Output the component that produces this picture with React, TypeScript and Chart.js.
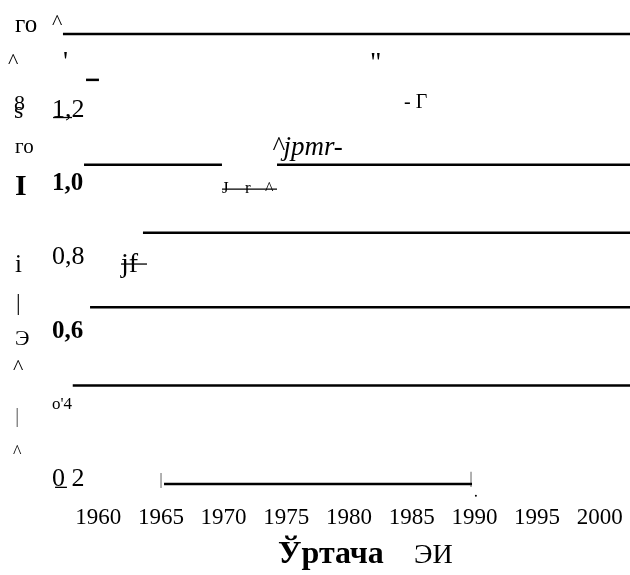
import { useEffect, useRef } from "react";
import { Chart, registerables } from "chart.js";

Chart.register(...registerables);

const SERIF = "'Liberation Serif', 'Times New Roman', serif";

// Axis ticks
const xTickYears = [1960, 1965, 1970, 1975, 1980, 1985, 1990, 1995, 2000];
const yTickValues = [0.2, 0.4, 0.6, 0.8, 1.0, 1.2];
const yTickLabels = ["0 2", "o'4", "0,6", "0,8", "1,0", "1,2"];
const xTitleBold = "Ўртача";
const xTitleRegular = "ЭИ";

// Horizontal rules (value level, start year, end year)
const ruleLevels = [1.405, 1.281, 1.051, 1.051, 0.867, 0.665, 0.453, 0.186];
const ruleStarts = [1957.19, 1959.03, 1958.87, 1974.26, 1963.57, 1959.35, 1957.97, 1965.25];
const ruleEnds = [2002.8, 1960.06, 1969.87, 2002.8, 2002.8, 2002.8, 2002.8, 1989.81];

// Thin strike / underline strokes
const strokeLevels = [0.985, 0.782, 1.179, 0.177];
const strokeStarts = [1969.87, 1961.82, 1956.4, 1956.56];
const strokeEnds = [1974.26, 1963.89, 1957.91, 1957.51];

// End markers of the bottom rule
const markerYears = [1965.01, 1989.73];
const markerTops = [0.216, 0.219];
const markerBottoms = [0.175, 0.178];

// Stray dot
const dotYears = [1990.12];
const dotValues = [0.154];

// Loose text fragments
const noteTexts = ["го", "^", "^", "'", "\"", "8", "s", "- Г", "го", "^jpmr-", "I", "J", "r", "^", "i", "jf", "|", "Э", "^", "|", "^", xTitleBold, xTitleRegular];
const noteYears = [1953.37, 1956.32, 1952.81, 1957.19, 1981.67, 1953.29, 1953.29, 1984.39, 1953.37, 1973.86, 1953.37, 1969.87, 1971.71, 1973.3, 1953.37, 1961.82, 1953.45, 1953.37, 1953.21, 1953.37, 1953.21, 1974.34, 1985.18];
const noteValues = [1.411, 1.42, 1.312, 1.308, 1.305, 1.2, 1.178, 1.205, 1.083, 1.0775, 0.969, 0.9745, 0.9745, 0.969, 0.7605, 0.7605, 0.6575, 0.5627, 0.4842, 0.3541, 0.2566, -0.0279, -0.0279];
const noteFonts = [
  `25px ${SERIF}`, `22px ${SERIF}`, `22px ${SERIF}`, `28px ${SERIF}`, `28px ${SERIF}`,
  `22px ${SERIF}`, `24px ${SERIF}`, `20px ${SERIF}`, `21px ${SERIF}`, `italic 27px ${SERIF}`,
  `bold 30px ${SERIF}`, `17px ${SERIF}`, `17px ${SERIF}`, `18px ${SERIF}`, `25px ${SERIF}`,
  `28px ${SERIF}`, `23px ${SERIF}`, `22px ${SERIF}`, `22px ${SERIF}`, `22px ${SERIF}`,
  `18px ${SERIF}`, `bold 32px ${SERIF}`, `28px ${SERIF}`,
];
const noteColors = noteTexts.map((_, i) => (i === 19 ? "#666" : "#000"));

const yTickFonts = [
  { family: SERIF, size: 26 },
  { family: SERIF, size: 17 },
  { family: SERIF, size: 25, weight: "bold" },
  { family: SERIF, size: 26 },
  { family: SERIF, size: 25, weight: "bold" },
  { family: SERIF, size: 26 },
];

const notesPlugin = {
  id: "notes",
  afterDatasetsDraw(chart: any) {
    const { ctx, scales } = chart;
    ctx.save();
    ctx.textAlign = "left";
    ctx.textBaseline = "alphabetic";
    noteTexts.forEach((t, i) => {
      ctx.font = noteFonts[i];
      ctx.fillStyle = noteColors[i];
      ctx.fillText(t, scales.x.getPixelForValue(noteYears[i]), scales.y.getPixelForValue(noteValues[i]));
    });
    ctx.restore();
  },
};

function seg(x0: number, x1: number, y0: number, y1: number, width: number, color: string) {
  return {
    data: [{ x: x0, y: y0 }, { x: x1, y: y1 }],
    showLine: true,
    borderColor: color,
    backgroundColor: color,
    borderWidth: width,
    pointRadius: 0,
    clip: false as any,
  };
}

export default function App() {
  const ref = useRef<HTMLCanvasElement | null>(null);

  useEffect(() => {
    if (!ref.current) return;
    const datasets: any[] = [];
    ruleLevels.forEach((v, i) => datasets.push(seg(ruleStarts[i], ruleEnds[i], v, v, 2.5, "#000")));
    strokeLevels.forEach((v, i) => datasets.push(seg(strokeStarts[i], strokeEnds[i], v, v, 1.3, "#000")));
    markerYears.forEach((x, i) => datasets.push(seg(x, x, markerTops[i], markerBottoms[i], 1.3, "#888")));
    datasets.push({
      data: dotYears.map((x, i) => ({ x, y: dotValues[i] })),
      showLine: false,
      pointRadius: 1,
      borderWidth: 0,
      backgroundColor: "#000",
      clip: false,
    });

    const chart = new Chart(ref.current, {
      type: "scatter",
      data: { datasets },
      options: {
        animation: false,
        responsive: false,
        devicePixelRatio: 1,
        layout: { autoPadding: false, padding: { left: 49, top: 17.5, right: 0, bottom: 0 } },
        plugins: { legend: { display: false }, tooltip: { enabled: false } },
        events: [],
        scales: {
          x: {
            type: "linear",
            bounds: "data",
            min: 1956.077,
            max: 2002.408,
            afterBuildTicks: (s: any) => {
              s.ticks = xTickYears.map((v) => ({ value: v }));
            },
            afterFit: (s: any) => {
              s.height = 77.7;
              s.paddingLeft = 0;
              s.paddingRight = 0;
            },
            grid: { display: false, drawTicks: false },
            border: { display: false },
            ticks: {
              autoSkip: false,
              maxRotation: 0,
              minRotation: 0,
              padding: 6.4,
              color: "#000",
              font: { family: SERIF, size: 23 },
              callback: (v: any) => String(v),
            },
          },
          y: {
            type: "linear",
            bounds: "data",
            min: 0.15,
            max: 1.45,
            afterBuildTicks: (s: any) => {
              s.ticks = yTickValues.map((v) => ({ value: v }));
            },
            afterFit: (s: any) => {
              s.width = 0;
              s.paddingTop = 0;
              s.paddingBottom = 0;
            },
            grid: { display: false, drawTicks: false },
            border: { display: false },
            ticks: {
              autoSkip: false,
              mirror: true,
              padding: 3,
              color: "#000",
              font: (c: any) => yTickFonts[c.index] as any,
              callback: (_v: any, i: number) => yTickLabels[i],
            },
          },
        },
      } as any,
      plugins: [notesPlugin],
    });
    return () => chart.destroy();
  }, []);

  return (
    <div style={{ position: "fixed", left: 0, top: 0, width: 630, height: 575, background: "#fff" }}>
      <canvas ref={ref} width={630} height={575} />
    </div>
  );
}
